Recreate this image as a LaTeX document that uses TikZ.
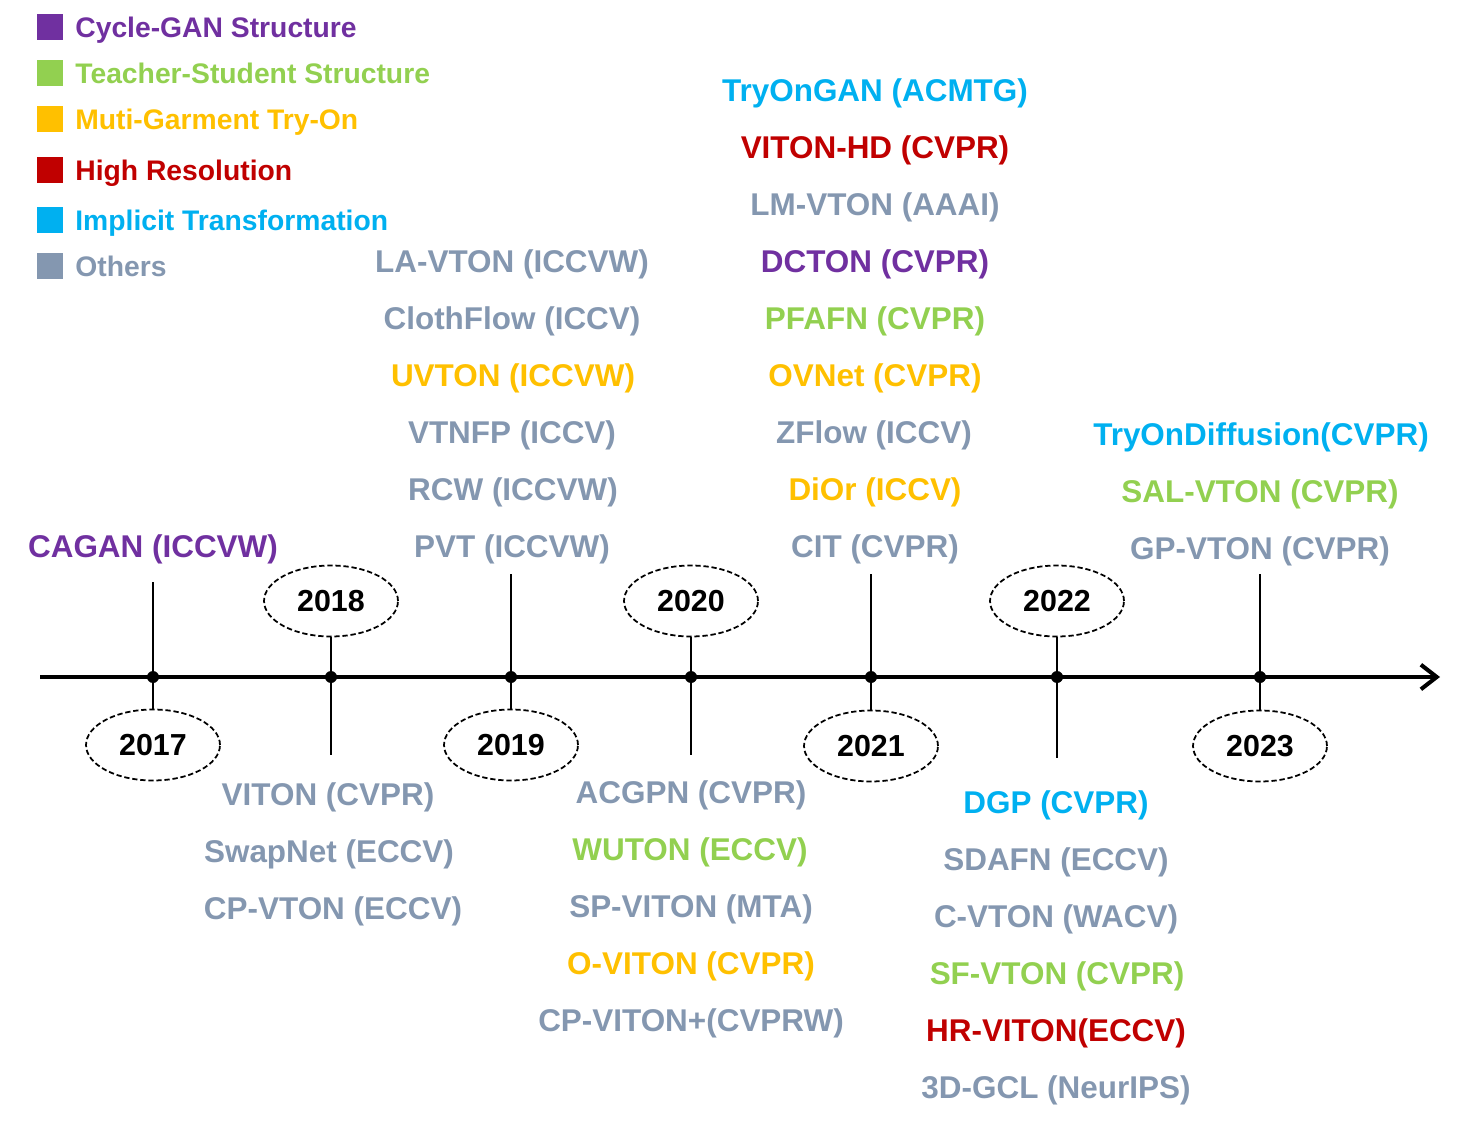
\documentclass[tikz,border=0pt]{standalone}
\usepackage{fontspec}
\setmainfont{Liberation Sans}
\usetikzlibrary{arrows.meta,shapes.geometric}
\definecolor{cpur}{HTML}{7030A0}
\definecolor{cgrn}{HTML}{92D050}
\definecolor{corg}{HTML}{FFC000}
\definecolor{cred}{HTML}{C00000}
\definecolor{cblu}{HTML}{00B0F0}
\definecolor{cgry}{HTML}{8497B0}
\begin{document}
\begin{tikzpicture}[x=0.02cm,y=-0.02cm,
  lbl/.style={font=\fontsize{17.9}{20}\selectfont\bfseries, text height=0.716em, text depth=0pt, inner sep=0pt, anchor=center, yshift=-2.8pt},
  leg/.style={font=\fontsize{16.1}{18}\selectfont\bfseries, text height=0.716em, text depth=0pt, inner sep=0pt, anchor=west, yshift=-2.3pt},
  legsq/.style={minimum size=0.52cm, inner sep=0pt, draw=none},
  yearbox/.style={ellipse, draw=black, line width=1pt, dash pattern=on 3pt off 1.6pt, minimum width=2.68cm, minimum height=1.42cm, inner sep=0pt, font=\fontsize{17.3}{19}\selectfont\bfseries},
  axisline/.style={line width=2.3pt, -{Straight Barb[length=9pt, width=14pt, line width=2.3pt]}},
  vline/.style={line width=1.1pt},
  dot/.style={circle, fill=black, minimum size=0.24cm, inner sep=0pt}
]
\useasboundingbox (0,0) rectangle (1461,1125);

% legend
\node[legsq, fill=cpur] (s1) at (50,27) {};
\node[leg, text=cpur] (l1) at (75,27) {Cycle-GAN Structure};
\node[legsq, fill=cgrn] (s2) at (50,73) {};
\node[leg, text=cgrn] (l2) at (75,73) {Teacher-Student Structure};
\node[legsq, fill=corg] (s3) at (50,119) {};
\node[leg, text=corg] (l3) at (75,119) {Muti-Garment Try-On};
\node[legsq, fill=cred] (s4) at (50,170) {};
\node[leg, text=cred] (l4) at (75,170) {High Resolution};
\node[legsq, fill=cblu] (s5) at (50,220) {};
\node[leg, text=cblu] (l5) at (75,220) {Implicit Transformation};
\node[legsq, fill=cgry] (s6) at (50,266) {};
\node[leg, text=cgry] (l6) at (75,266) {Others};

% year ellipses
\node[yearbox] (e17) at (153,745) {2017};
\node[yearbox] (e18) at (331,601) {2018};
\node[yearbox] (e19) at (511,745) {2019};
\node[yearbox] (e20) at (691,601) {2020};
\node[yearbox] (e21) at (871,746) {2021};
\node[yearbox] (e22) at (1057,601) {2022};
\node[yearbox] (e23) at (1260,746) {2023};

% axis points
\coordinate (a0) at (40,677);
\coordinate (a1) at (1440,677);
\coordinate (d17) at (153,677);
\coordinate (d18) at (331,677);
\coordinate (d19) at (511,677);
\coordinate (d20) at (691,677);
\coordinate (d21) at (871,677);
\coordinate (d22) at (1057,677);
\coordinate (d23) at (1260,677);
% free ends
\coordinate (t17) at (153,582);
\coordinate (t18) at (331,755);
\coordinate (t19) at (511,574);
\coordinate (t20) at (691,755);
\coordinate (t21) at (871,574);
\coordinate (t22) at (1057,758);
\coordinate (t23) at (1260,574);

\draw[vline] (d17) -- (t17);
\draw[vline] (d17) -- (e17.north);
\draw[vline] (d18) -- (e18.south);
\draw[vline] (d18) -- (t18);
\draw[vline] (d19) -- (t19);
\draw[vline] (d19) -- (e19.north);
\draw[vline] (d20) -- (e20.south);
\draw[vline] (d20) -- (t20);
\draw[vline] (d21) -- (t21);
\draw[vline] (d21) -- (e21.north);
\draw[vline] (d22) -- (e22.south);
\draw[vline] (d22) -- (t22);
\draw[vline] (d23) -- (t23);
\draw[vline] (d23) -- (e23.north);

\draw[axisline] (a0) -- (a1);
\foreach \d in {d17,d18,d19,d20,d21,d22,d23} \node[dot] at (\d) {};

% 2017
\node[lbl, text=cpur] (p17a) at (153,546) {CAGAN (ICCVW)};
% 2018
\node[lbl, text=cgry] (p18a) at (328,794) {VITON (CVPR)};
\node[lbl, text=cgry] (p18b) at (329,851) {SwapNet (ECCV)};
\node[lbl, text=cgry] (p18c) at (333,908) {CP-VTON (ECCV)};
% 2019
\node[lbl, text=cgry] (p19a) at (512,261) {LA-VTON (ICCVW)};
\node[lbl, text=cgry] (p19b) at (512,318) {ClothFlow (ICCV)};
\node[lbl, text=corg] (p19c) at (513,375) {UVTON (ICCVW)};
\node[lbl, text=cgry] (p19d) at (512,432) {VTNFP (ICCV)};
\node[lbl, text=cgry] (p19e) at (513,489) {RCW (ICCVW)};
\node[lbl, text=cgry] (p19f) at (512,546) {PVT (ICCVW)};
% 2020
\node[lbl, text=cgry] (p20a) at (691,792) {ACGPN (CVPR)};
\node[lbl, text=cgrn] (p20b) at (690,849) {WUTON (ECCV)};
\node[lbl, text=cgry] (p20c) at (691,906) {SP-VITON (MTA)};
\node[lbl, text=corg] (p20d) at (691,963) {O-VITON (CVPR)};
\node[lbl, text=cgry] (p20e) at (691,1020) {CP-VITON+(CVPRW)};
% 2021
\node[lbl, text=cblu] (p21a) at (875,90) {TryOnGAN (ACMTG)};
\node[lbl, text=cred] (p21b) at (875,147) {VITON-HD (CVPR)};
\node[lbl, text=cgry] (p21c) at (875,204) {LM-VTON (AAAI)};
\node[lbl, text=cpur] (p21d) at (875,261) {DCTON (CVPR)};
\node[lbl, text=cgrn] (p21e) at (875,318) {PFAFN (CVPR)};
\node[lbl, text=corg] (p21f) at (875,375) {OVNet (CVPR)};
\node[lbl, text=cgry] (p21g) at (874,432) {ZFlow (ICCV)};
\node[lbl, text=corg] (p21h) at (875,489) {DiOr (ICCV)};
\node[lbl, text=cgry] (p21i) at (875,546) {CIT (CVPR)};
% 2022
\node[lbl, text=cblu] (p22a) at (1056,802) {DGP (CVPR)};
\node[lbl, text=cgry] (p22b) at (1056,859) {SDAFN (ECCV)};
\node[lbl, text=cgry] (p22c) at (1056,916) {C-VTON (WACV)};
\node[lbl, text=cgrn] (p22d) at (1057,973) {SF-VTON (CVPR)};
\node[lbl, text=cred] (p22e) at (1056,1030) {HR-VITON(ECCV)};
\node[lbl, text=cgry] (p22f) at (1056,1087) {3D-GCL (NeurIPS)};
% 2023
\node[lbl, text=cblu] (p23a) at (1261,434) {TryOnDiffusion(CVPR)};
\node[lbl, text=cgrn] (p23b) at (1260,491) {SAL-VTON (CVPR)};
\node[lbl, text=cgry] (p23c) at (1260,548) {GP-VTON (CVPR)};
\end{tikzpicture}
\end{document}
